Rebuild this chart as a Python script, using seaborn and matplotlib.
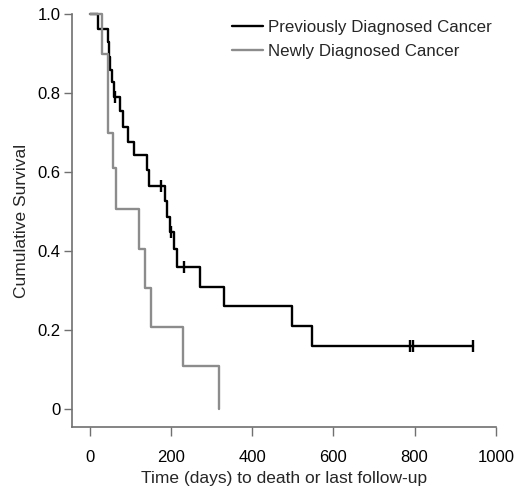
import numpy as np
import pandas as pd
import matplotlib
matplotlib.use("Agg")
import matplotlib.pyplot as plt
import seaborn as sns

# Kaplan-Meier step points (days, cumulative survival)
prev_days = [0, 20.5, 43.6, 46.8, 50.5, 53.5, 59.9, 74, 80.6, 93, 108.5,
             139.8, 146.2, 183.7, 189.1, 197, 208.3, 215.7, 272, 331, 497,
             546.6, 945]
prev_surv = [1.0, 0.963, 0.929, 0.891, 0.858, 0.828, 0.790, 0.754, 0.714,
             0.676, 0.643, 0.605, 0.566, 0.527, 0.487, 0.448, 0.406, 0.361,
             0.310, 0.261, 0.211, 0.160, 0.160]
prev_censored = [61.6, 174.3, 199, 231.8, 789, 797, 945]

new_days = [0, 28.8, 43.6, 56.7, 63.4, 121, 135.6, 150.4, 229.3, 318.8]
new_surv = [1.0, 0.90, 0.70, 0.61, 0.506, 0.405, 0.306, 0.208, 0.109, 0.0]

labels = ["Previously Diagnosed Cancer", "Newly Diagnosed Cancer"]
colors = ["#000000", "#8c8c8c"]

x_ticks = [0, 200, 400, 600, 800, 1000]
y_ticks = [0, 0.2, 0.4, 0.6, 0.8, 1.0]
y_tick_labels = ["0", "0.2", "0.4", "0.6", "0.8", "1.0"]

df = pd.concat([
    pd.DataFrame({"days": prev_days, "surv": prev_surv, "group": labels[0]}),
    pd.DataFrame({"days": new_days, "surv": new_surv, "group": labels[1]}),
])

sns.set_theme(style="ticks")
plt.rcParams["font.family"] = ["Liberation Sans", "DejaVu Sans"]

fig = plt.figure(figsize=(5.14, 4.86), dpi=100)
ax = fig.add_axes([0.1395, 0.1208, 0.825, 0.850])

sns.lineplot(data=df, x="days", y="surv", hue="group", hue_order=labels,
             palette=colors, estimator=None, drawstyle="steps-post",
             linewidth=1.7, ax=ax, clip_on=False)

# censored observations on the previously diagnosed curve
idx = np.searchsorted(prev_days, prev_censored, side="right") - 1
cens_surv = np.array(prev_surv)[idx]
ax.plot(prev_censored, cens_surv, ls="none", marker="|", ms=9, mew=1.7,
        color=colors[0], clip_on=False)

ax.set_xlim(-45, 1000)
ax.set_ylim(-0.046, 1.0)
ax.set_xticks(x_ticks)
ax.set_yticks(y_ticks)
ax.set_yticklabels(y_tick_labels)
ax.set_xlabel("Time (days) to death or last follow-up", fontsize=12.5,
              labelpad=5)
ax.set_ylabel("Cumulative Survival", fontsize=12.5, labelpad=6)

sns.despine(ax=ax)
for side in ["left", "bottom"]:
    ax.spines[side].set_color("#707070")
    ax.spines[side].set_linewidth(1.2)
ax.tick_params(axis="x", length=6.5, width=1, color="#707070", pad=9.5,
               labelsize=12, labelcolor="black")
ax.tick_params(axis="y", length=6, width=1, color="#707070", pad=2,
               labelsize=12, labelcolor="black")

ax.legend(loc="upper left", bbox_to_anchor=(232 / 514, 1 - 20 / 486),
          bbox_transform=fig.transFigure, frameon=False, fontsize=12.2,
          borderpad=0, borderaxespad=0, handlelength=1.8,
          handletextpad=0.3, labelspacing=0.55)

plt.savefig("out.png", dpi=100)
